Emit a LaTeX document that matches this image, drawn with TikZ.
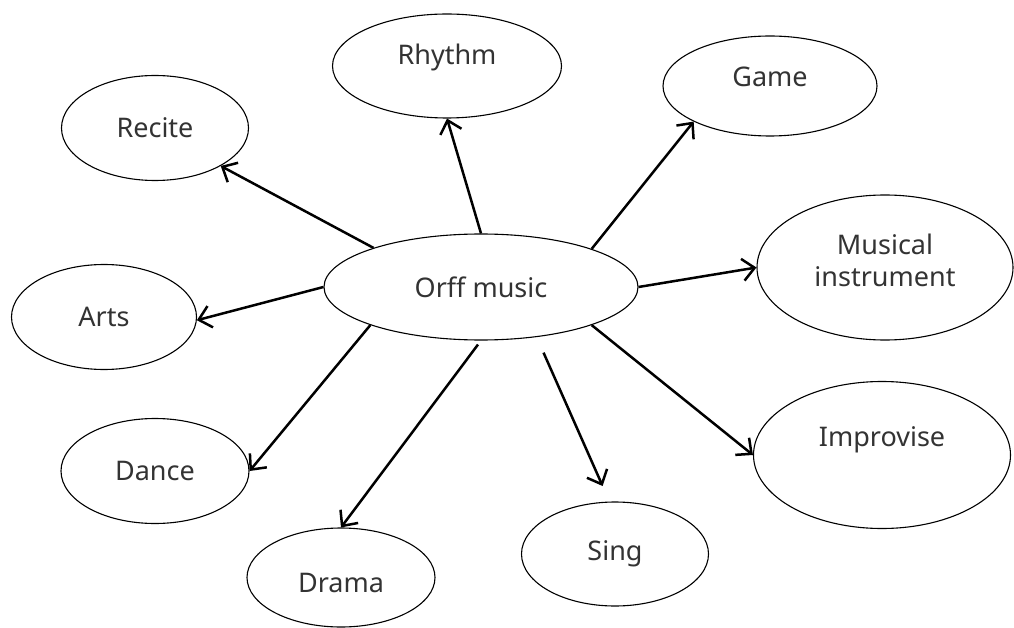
\documentclass[tikz,border=0pt]{standalone}
\usepackage{fontspec}
\setmainfont{Noto Sans}
\usetikzlibrary{shapes.geometric,arrows.meta}
\tikzset{
  bub/.style={draw=black, line width=1.1pt, ellipse, inner sep=0pt, fill=white},
  lbl/.style={font=\fontsize{27}{32}\selectfont, text=black!80, align=center},
  arr/.style={draw=black, line width=2.5pt, -{Straight Barb[length=12pt,width=22pt,line width=2.5pt]}},
}
\begin{document}
\begin{tikzpicture}[x=1pt,y=-1pt]
\useasboundingbox (0,0) rectangle (1014,628);
% ellipses
\node[bub, minimum width=314, minimum height=106, label={[lbl]center:Orff music}] (orff) at (481,287) {};
\node[bub, minimum width=229, minimum height=104, label={[lbl, yshift=9]center:Rhythm}] (rhythm) at (447,66) {};
\node[bub, minimum width=187, minimum height=105, label={[lbl]center:Recite}] (recite) at (155,128) {};
\node[bub, minimum width=214, minimum height=100, label={[lbl, yshift=9]center:Game}] (game) at (770,86) {};
\node[bub, minimum width=256, minimum height=145, label={[lbl, yshift=7]center:Musical\\instrument}] (musical) at (885,267.5) {};
\node[bub, minimum width=185, minimum height=105, label={[lbl]center:Arts}] (arts) at (104,317) {};
\node[bub, minimum width=188, minimum height=105, label={[lbl]center:Dance}] (dance) at (155,471) {};
\node[bub, minimum width=188, minimum height=99, label={[lbl, yshift=-5]center:Drama}] (drama) at (341,577.5) {};
\node[bub, minimum width=187, minimum height=104, label={[lbl]center:Sing}] (sing) at (615,554) {};
\node[bub, minimum width=257, minimum height=147, label={[lbl, yshift=15]center:Improvise}] (improvise) at (882,455) {};
% connectors
\draw[arr] (orff.160.3) -- (recite.330.4);
\draw[arr] (orff.north) -- (rhythm.south);
\draw[arr] (orff.19.2) -- (game.205.7);
\draw[arr] (orff.east) -- (musical.west);
\draw[arr] (orff.west) -- (arts.358);
\draw[arr] (orff.199.2) -- (dance.east);
\draw[arr, shorten <=5pt] (orff.south) -- (drama.north);
\draw[arr, shorten <=17pt, shorten >=17pt] (orff.318.1) -- (sing.96.6);
\draw[arr] (orff.341.7) -- (improvise.180);
\end{tikzpicture}
\end{document}
